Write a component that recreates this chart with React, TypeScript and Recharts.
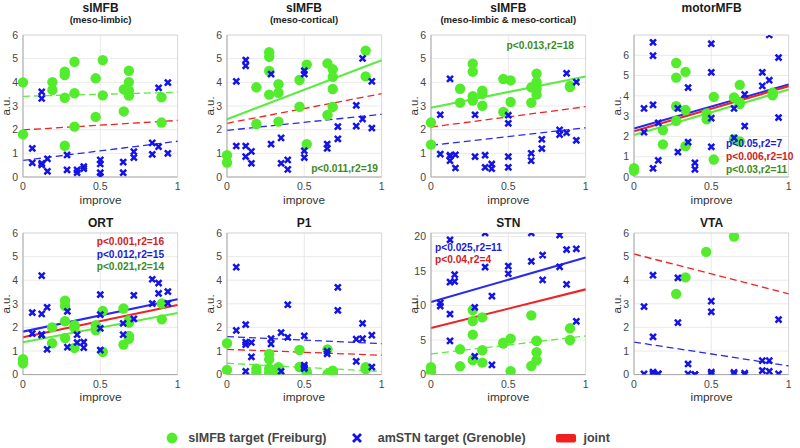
import React from 'react';
import { ScatterChart, Scatter, XAxis, YAxis, CartesianGrid, ReferenceLine } from 'recharts';

type Pt = [number, number];

// ---------- data ----------
const xTicks = [0, 0.5, 1];
const yTicks6 = [0, 1, 2, 3, 4, 5, 6];
const yTicksStn = [0, 5, 10, 15, 20];

const limbicGreen: Pt[] = [[0,4.0],[0,1.8],[0.19,4.01],[0.19,3.68],[0.27,4.45],[0.27,4.31],[0.27,3.35],[0.27,1.32],[0.333,4.87],[0.333,3.54],[0.333,2.13],[0.47,4.17],[0.47,2.54],[0.516,4.94],[0.516,3.45],[0.652,3.70],[0.652,2.77],[0.685,4.49],[0.685,4.01],[0.685,3.66],[0.685,3.44],[0.896,3.37],[0.896,2.30]];
const limbicBlue: Pt[] = [[0.06,1.21],[0.06,0.6],[0.121,3.6],[0.121,3.32],[0.121,0.58],[0.121,0.51],[0.158,0.77],[0.158,0.24],[0.285,0.93],[0.285,0.30],[0.35,0.30],[0.35,0.18],[0.393,0.44],[0.393,0.35],[0.5,0.72],[0.5,0.55],[0.5,0.18],[0.5,0.03],[0.648,0.63],[0.648,0.18],[0.717,1.07],[0.717,0.82],[0.836,1.44],[0.836,0.96],[0.877,1.28],[0.877,3.77],[0.937,3.99],[0.937,1.0]];

const corticalGreen: Pt[] = [[0,0.92],[0,0.61],[0.19,3.79],[0.19,2.24],[0.273,5.27],[0.273,5.08],[0.273,4.48],[0.273,3.48],[0.333,3.92],[0.333,3.56],[0.333,2.34],[0.469,4.10],[0.469,2.97],[0.516,4.75],[0.516,1.39],[0.65,4.80],[0.65,2.62],[0.684,4.55],[0.684,4.23],[0.684,3.72],[0.684,2.96],[0.897,5.34],[0.897,4.25]];
const corticalBlue: Pt[] = [[0.06,4.04],[0.06,1.31],[0.121,4.94],[0.121,4.70],[0.121,1.31],[0.121,0.86],[0.158,1.08],[0.158,0.58],[0.285,4.35],[0.285,1.39],[0.35,1.65],[0.35,0.58],[0.393,0.72],[0.393,0.32],[0.5,4.49],[0.5,4.35],[0.5,1.11],[0.5,0.82],[0.648,1.39],[0.648,1.21],[0.717,2.13],[0.717,1.61],[0.836,3.03],[0.836,2.15],[0.877,5.01],[0.877,2.45],[0.937,4.04],[0.937,2.07]];

const bothGreen: Pt[] = [[0,2.30],[0,1.37],[0.188,3.73],[0.188,3.14],[0.27,4.79],[0.27,4.45],[0.27,3.41],[0.27,3.23],[0.332,3.65],[0.332,3.51],[0.332,3.01],[0.468,4.14],[0.468,2.75],[0.515,4.08],[0.515,3.17],[0.649,3.79],[0.649,3.14],[0.683,4.37],[0.683,4.01],[0.683,3.73],[0.683,3.48],[0.899,3.85],[0.899,3.80]];
const bothBlue: Pt[] = [[0.06,2.63],[0.06,0.97],[0.123,4.15],[0.123,0.92],[0.123,0.88],[0.123,0.69],[0.158,0.94],[0.158,0.38],[0.285,2.63],[0.285,0.86],[0.35,0.92],[0.35,0.41],[0.393,0.55],[0.393,0.35],[0.5,2.61],[0.5,2.27],[0.5,0.86],[0.5,0.41],[0.648,1.0],[0.648,0.69],[0.717,1.59],[0.717,1.20],[0.832,1.99],[0.832,1.79],[0.877,4.38],[0.877,1.87],[0.94,4.01],[0.94,1.55]];

const motorGreen: Pt[] = [[0,0.43],[0,0.31],[0.187,2.31],[0.187,1.61],[0.273,5.62],[0.273,4.9],[0.273,3.49],[0.273,2.77],[0.333,5.18],[0.333,3.30],[0.333,1.52],[0.47,3.13],[0.47,2.84],[0.516,3.95],[0.516,0.86],[0.647,3.92],[0.647,1.85],[0.684,4.54],[0.684,3.68],[0.684,3.60],[0.684,1.75],[0.897,4.15],[0.897,4.03]];
const motorBlue: Pt[] = [[0.065,2.21],[0.065,3.38],[0.123,6.64],[0.123,5.98],[0.123,3.56],[0.123,0.43],[0.157,2.67],[0.157,0.82],[0.284,3.38],[0.284,1.23],[0.35,4.41],[0.35,1.72],[0.394,0.70],[0.394,0.38],[0.5,6.57],[0.5,5.16],[0.5,2.90],[0.5,1.49],[0.647,3.38],[0.647,1.93],[0.716,4.07],[0.716,2.51],[0.83,5.16],[0.83,4.49],[0.875,4.77],[0.875,7.0],[0.935,5.89],[0.935,2.93]];

const ortGreen: Pt[] = [[0,0.65],[0,0.48],[0.188,2.0],[0.188,1.33],[0.272,3.13],[0.272,2.91],[0.272,2.26],[0.272,1.55],[0.333,2.09],[0.333,1.98],[0.333,1.13],[0.471,2.09],[0.471,1.88],[0.516,2.70],[0.516,0.96],[0.65,2.80],[0.65,1.27],[0.685,2.30],[0.685,2.20],[0.685,1.64],[0.685,1.52],[0.898,3.01],[0.898,2.34]];
const ortBlue: Pt[] = [[0.06,2.63],[0.06,1.74],[0.121,4.19],[0.121,2.57],[0.121,1.67],[0.121,1.70],[0.156,2.85],[0.156,1.07],[0.287,2.68],[0.287,1.16],[0.35,1.69],[0.35,1.36],[0.393,1.38],[0.393,1.14],[0.5,3.39],[0.5,2.54],[0.5,1.96],[0.5,1.04],[0.648,2.17],[0.648,1.69],[0.717,3.36],[0.717,2.36],[0.836,4.04],[0.836,3.01],[0.877,3.88],[0.877,3.44],[0.937,3.52],[0.937,3.02]];

const p1Green: Pt[] = [[0,1.33],[0,0.20],[0.19,0.25],[0.19,0.08],[0.273,0.88],[0.273,0.65],[0.273,0.25],[0.273,0.08],[0.333,0.31],[0.333,0.14],[0.333,0.06],[0.469,1.04],[0.469,0.32],[0.516,0.11],[0.516,0.03],[0.65,1.07],[0.65,0.03],[0.684,0.17],[0.684,0.10],[0.684,0.06],[0.684,0.03],[0.897,0.31],[0.897,0.23]];
const p1Blue: Pt[] = [[0.06,4.55],[0.06,1.87],[0.121,2.12],[0.121,1.38],[0.121,1.27],[0.121,0.14],[0.158,1.36],[0.158,0.75],[0.285,1.52],[0.285,1.30],[0.35,1.78],[0.35,0.14],[0.393,2.96],[0.393,1.58],[0.5,1.64],[0.5,0.40],[0.5,0.31],[0.5,0.25],[0.648,0.99],[0.648,0.88],[0.717,3.70],[0.717,2.72],[0.836,1.50],[0.836,0.56],[0.877,2.17],[0.877,1.52],[0.937,1.67],[0.937,0.32]];

const stnGreen: Pt[] = [[0,1.06],[0,0.39],[0.188,3.66],[0.188,1.20],[0.27,9.35],[0.27,7.76],[0.27,5.78],[0.27,2.12],[0.332,8.29],[0.332,3.52],[0.332,1.73],[0.468,4.63],[0.468,4.5],[0.515,5.20],[0.515,0.48],[0.649,8.58],[0.649,1.25],[0.683,4.92],[0.683,4.85],[0.683,3.23],[0.683,2.07],[0.899,6.70],[0.899,5.01]];
const stnBlue: Pt[] = [[0.06,10.4],[0.06,9.93],[0.123,19.52],[0.123,13.4],[0.123,8.77],[0.123,4.87],[0.153,14.46],[0.153,13.49],[0.283,9.73],[0.283,2.65],[0.35,20.5],[0.35,15.57],[0.394,11.37],[0.394,1.40],[0.5,15.71],[0.5,14.60],[0.649,20.5],[0.649,16.4],[0.722,17.3],[0.722,13.7],[0.832,20.2],[0.832,15.6],[0.877,18.1],[0.877,13.06],[0.94,18.2],[0.94,7.71]];

const vtaGreen: Pt[] = [[0.273,3.42],[0.333,4.12],[0.467,5.20],[0.647,5.85]];
const vtaBlue: Pt[] = [[0.065,2.88],[0.065,0.03],[0.123,4.21],[0.123,1.60],[0.123,0.11],[0.123,0.03],[0.157,0.03],[0.157,0.03],[0.284,4.10],[0.284,2.20],[0.35,0.45],[0.35,0.03],[0.394,0.0],[0.394,0.0],[0.5,3.11],[0.5,2.66],[0.5,0.11],[0.5,0.03],[0.647,0.09],[0.647,0.03],[0.716,0.06],[0.716,0.0],[0.83,0.59],[0.83,0.17],[0.875,0.59],[0.875,0.14],[0.935,2.33],[0.935,0.03]];

// fit lines: [group, y at improve=0, y at improve=1, significant]
type Fit = [string, number, number, boolean];
const limbicFits: Fit[] = [['green',3.41,3.58,false],['red',1.99,2.39,false],['blue',0.70,1.51,false]];
const corticalFits: Fit[] = [['green',2.44,4.93,true],['red',2.27,3.52,false],['blue',1.97,2.65,false]];
const bothFits: Fit[] = [['green',2.93,4.25,true],['red',2.11,2.97,false],['blue',1.34,2.08,false]];
const motorFits: Fit[] = [['blue',2.39,4.56,true],['red',2.26,4.48,true],['green',2.07,4.31,true]];
const ortFits: Fit[] = [['blue',1.82,3.19,true],['red',1.58,2.95,true],['green',1.37,2.61,true]];
const p1Fits: Fit[] = [['blue',1.61,1.31,false],['red',1.07,0.82,false],['green',0.48,0.13,false]];
const stnFits: Fit[] = [['blue',10.5,16.96,true],['red',6.75,12.34,true],['green',2.99,5.59,false]];
const vtaFits: Fit[] = [['red',5.11,3.42,false],['blue',1.38,0.37,false]];

// annotations: [group, text]
type Note = [string, string];
const corticalNotes: Note[] = [['green','p<0.011,r2=19']];
const bothNotes: Note[] = [['green','p<0.013,r2=18']];
const motorNotes: Note[] = [['blue','p<0.05,r2=7'],['red','p<0.006,r2=10'],['green','p<0.03,r2=11']];
const ortNotes: Note[] = [['red','p<0.001,r2=16'],['blue','p<0.012,r2=15'],['green','p<0.021,r2=14']];
const stnNotes: Note[] = [['blue','p<0.025,r2=11'],['red','p<0.04,r2=4']];

const legendLabels = ['sIMFB target (Freiburg)', 'amSTN target (Grenoble)', 'joint'];

// ---------- styling ----------
const FONT = '"Liberation Sans", Arial, Helvetica, sans-serif';
const GREEN = '#52ec2c';
const BLUE = '#1414e6';
const LINE_COLORS: Record<string, string> = { green: '#5cec40', red: '#ee2424', blue: '#2a2aee' };
const NOTE_COLORS: Record<string, string> = { green: '#3e8a1c', red: '#d02222', blue: '#1c1cd4' };

const COLS = [23.3, 226.7, 431, 634.3];
const ROWS = [35, 232.7];
const PW = 154.6;
const PH = [142, 141.6];

type NoteBox = { x: number; y: number; align: 'left' | 'right'; lh: number };

type PanelCfg = {
  title: string;
  subtitle?: string;
  col: number;
  row: number;
  yMax: number;
  yTicks: number[];
  green: Pt[];
  blue: Pt[];
  fits: Fit[];
  notes?: Note[];
  noteBox?: NoteBox;
};

const panels: PanelCfg[] = [
  { title: 'sIMFB', subtitle: '(meso-limbic)', col: 0, row: 0, yMax: 6, yTicks: yTicks6, green: limbicGreen, blue: limbicBlue, fits: limbicFits },
  { title: 'sIMFB', subtitle: '(meso-cortical)', col: 1, row: 0, yMax: 6, yTicks: yTicks6, green: corticalGreen, blue: corticalBlue, fits: corticalFits, notes: corticalNotes, noteBox: { x: 378, y: 169, align: 'right', lh: 12 } },
  { title: 'sIMFB', subtitle: '(meso-limbic & meso-cortical)', col: 2, row: 0, yMax: 6, yTicks: yTicks6, green: bothGreen, blue: bothBlue, fits: bothFits, notes: bothNotes, noteBox: { x: 574, y: 45.7, align: 'right', lh: 12 } },
  { title: 'motorMFB', col: 3, row: 0, yMax: 7, yTicks: yTicks6, green: motorGreen, blue: motorBlue, fits: motorFits, notes: motorNotes, noteBox: { x: 726, y: 144, align: 'left', lh: 13 } },
  { title: 'ORT', col: 0, row: 1, yMax: 6, yTicks: yTicks6, green: ortGreen, blue: ortBlue, fits: ortFits, notes: ortNotes, noteBox: { x: 96.7, y: 242.3, align: 'left', lh: 12.2 } },
  { title: 'P1', col: 1, row: 1, yMax: 6, yTicks: yTicks6, green: p1Green, blue: p1Blue, fits: p1Fits },
  { title: 'STN', col: 2, row: 1, yMax: 20.5, yTicks: yTicksStn, green: stnGreen, blue: stnBlue, fits: stnFits, notes: stnNotes, noteBox: { x: 435, y: 248.3, align: 'left', lh: 12 } },
  { title: 'VTA', col: 3, row: 1, yMax: 6, yTicks: yTicks6, green: vtaGreen, blue: vtaBlue, fits: vtaFits },
];

const toObj = (pts: Pt[]) => pts.map(([x, y]) => ({ x, y }));

const GreenDot = (props: any) => {
  const { cx, cy } = props;
  if (cx == null || cy == null) return null;
  return <circle cx={cx} cy={cy} r={5.2} fill={GREEN} />;
};

const BlueCross = (props: any) => {
  const { cx, cy } = props;
  if (cx == null || cy == null) return null;
  const s = 2.1;
  return (
    <path
      d={`M${cx - s},${cy - s}L${cx + s},${cy + s}M${cx - s},${cy + s}L${cx + s},${cy - s}`}
      stroke={BLUE}
      strokeWidth={2.5}
      strokeLinecap="square"
      fill="none"
    />
  );
};

const ML = 40;
const MT = 5;
const MR = 10;
const XH = 30;

function Panel({ cfg }: { cfg: PanelCfg }) {
  const left = COLS[cfg.col];
  const top = ROWS[cfg.row];
  const ph = PH[cfg.row];
  const W = ML + PW + MR;
  const H = MT + ph + XH;
  const tickStyle = { fill: '#454545', fontSize: 10.5, fontFamily: FONT };
  const cx = left + PW / 2;
  const titleY = cfg.row === 0 ? 8 : 223.3;
  return (
    <>
      <div style={{ position: 'absolute', left: left - ML, top: top - MT, width: W, height: H }}>
        <ScatterChart width={W} height={H} margin={{ top: MT, right: MR, bottom: 0, left: 0 }}>
          <CartesianGrid stroke="#e4e4e4" strokeWidth={0.8} />
          <XAxis
            type="number"
            dataKey="x"
            domain={[0, 1]}
            ticks={xTicks}
            height={XH}
            tickSize={0}
            tickMargin={6}
            axisLine={{ stroke: '#a6a6a6' }}
            tick={tickStyle}
            interval={0}
          />
          <YAxis
            type="number"
            dataKey="y"
            domain={[0, cfg.yMax]}
            ticks={cfg.yTicks}
            width={ML}
            tickSize={0}
            tickMargin={5}
            axisLine={{ stroke: '#a6a6a6' }}
            tick={tickStyle}
            interval={0}
            allowDataOverflow
          />
          <ReferenceLine x={1} stroke="#d6d6d6" strokeWidth={0.8} />
          <ReferenceLine y={cfg.yMax} stroke="#d6d6d6" strokeWidth={0.8} />
          <Scatter data={toObj(cfg.green)} shape={GreenDot} isAnimationActive={false} />
          <Scatter data={toObj(cfg.blue)} shape={BlueCross} isAnimationActive={false} />
          {cfg.fits.map(([g, y0, y1, sig], i) => (
            <ReferenceLine
              key={i}
              segment={[{ x: 0, y: y0 }, { x: 1, y: y1 }]}
              stroke={LINE_COLORS[g]}
              strokeWidth={sig ? 2.1 : 1.3}
              strokeDasharray={sig ? undefined : '7 4'}
              ifOverflow="visible"
            />
          ))}
        </ScatterChart>
      </div>
      <div style={{ position: 'absolute', left: cx, top: titleY, transform: 'translate(-50%, -50%)', fontFamily: FONT, fontWeight: 700, fontSize: 12, color: '#1a1a1a', whiteSpace: 'nowrap' }}>
        {cfg.title}
      </div>
      {cfg.subtitle && (
        <div style={{ position: 'absolute', left: cx, top: 19, transform: 'translate(-50%, -50%)', fontFamily: FONT, fontWeight: 700, fontSize: 9.5, color: '#1a1a1a', whiteSpace: 'nowrap' }}>
          {cfg.subtitle}
        </div>
      )}
      <div style={{ position: 'absolute', left: left - 17, top: top + ph / 2, transform: 'translate(-50%, -50%) rotate(-90deg)', fontFamily: FONT, fontSize: 11.5, color: '#333', whiteSpace: 'nowrap' }}>
        a.u.
      </div>
      <div style={{ position: 'absolute', left: cx, top: top + ph + 23, transform: 'translate(-50%, -50%)', fontFamily: FONT, fontSize: 11.8, color: '#333', whiteSpace: 'nowrap' }}>
        improve
      </div>
      {cfg.notes && cfg.noteBox &&
        cfg.notes.map(([g, text], i) => (
          <div
            key={i}
            style={{
              position: 'absolute',
              left: cfg.noteBox!.align === 'left' ? cfg.noteBox!.x : undefined,
              right: cfg.noteBox!.align === 'right' ? 800 - cfg.noteBox!.x : undefined,
              top: cfg.noteBox!.y + i * cfg.noteBox!.lh,
              transform: 'translateY(-50%)',
              fontFamily: FONT,
              fontSize: 10.2,
              fontWeight: 700,
              color: NOTE_COLORS[g],
              whiteSpace: 'nowrap',
              lineHeight: 1,
            }}
          >
            {text}
          </div>
        ))}
    </>
  );
}

function Legend() {
  const textStyle: React.CSSProperties = { position: 'absolute', top: 438, transform: 'translateY(-50%)', fontFamily: FONT, fontWeight: 700, fontSize: 12.5, color: '#454545', whiteSpace: 'nowrap' };
  return (
    <>
      <svg style={{ position: 'absolute', left: 0, top: 425 }} width={800} height={23}>
        <circle cx={172} cy={13} r={5.4} fill={GREEN} />
        <path d="M354,10L360,16M354,16L360,10" stroke={BLUE} strokeWidth={2.8} strokeLinecap="square" />
        <rect x={556} y={9} width={20} height={8.5} rx={2} fill="#ee2020" />
      </svg>
      <div style={{ ...textStyle, left: 188.3 }}>{legendLabels[0]}</div>
      <div style={{ ...textStyle, left: 377.7 }}>{legendLabels[1]}</div>
      <div style={{ ...textStyle, left: 583.5 }}>{legendLabels[2]}</div>
    </>
  );
}

export default function App() {
  return (
    <div style={{ position: 'absolute', left: 0, top: 0, width: 800, height: 448, background: '#fff', overflow: 'hidden' }}>
      {panels.map((p, i) => (
        <Panel key={i} cfg={p} />
      ))}
      <Legend />
    </div>
  );
}
